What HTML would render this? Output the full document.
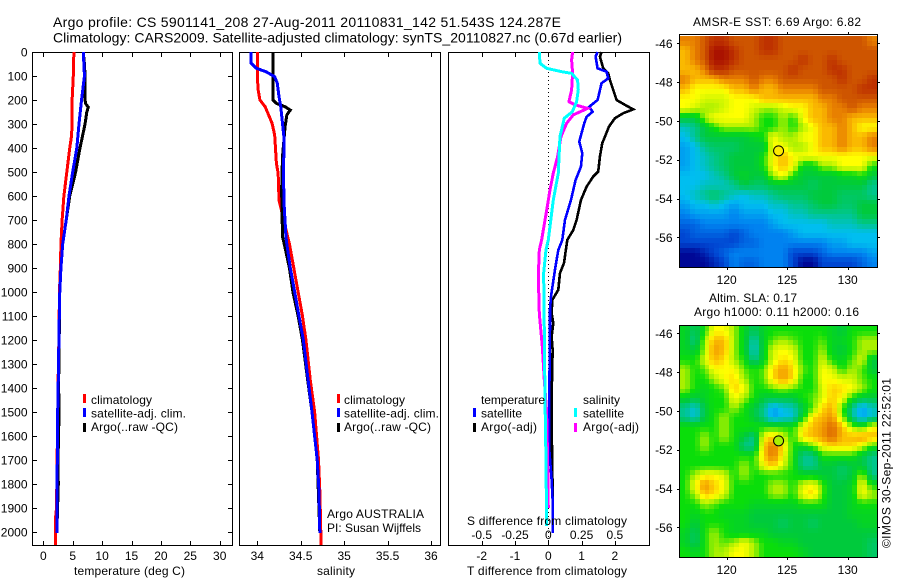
<!DOCTYPE html>
<html>
<head>
<meta charset="utf-8">
<title>Argo profile</title>
<style>
html,body{margin:0;padding:0;background:#fff;width:900px;height:580px;overflow:hidden}
svg{display:block}
text{font-family:"Liberation Sans",sans-serif;font-size:12px;fill:#000}
.title{font-size:14px}
.crisp{shape-rendering:crispEdges}
</style>
</head>
<body>
<svg id="chart" xmlns="http://www.w3.org/2000/svg" width="900" height="580" viewBox="0 0 900 580">
  <rect x="0" y="0" width="900" height="580" fill="#fff"/>
  <text class="title" x="53" y="27" textLength="508">Argo profile: CS 5901141_208 27-Aug-2011 20110831_142 51.543S 124.287E</text>
  <text class="title" x="53" y="42.5" textLength="569">Climatology: CARS2009. Satellite-adjusted climatology: synTS_20110827.nc (0.67d earlier)</text>

  <g id="maps"></g>
  <g id="panels"></g>

  <text x="91" y="404" textLength="61">climatology</text>
  <text x="91" y="417.5" textLength="95">satellite-adj. clim.</text>
  <text x="91" y="431" textLength="87">Argo(..raw -QC)</text>
  <rect class="crisp" x="83" y="394" width="3" height="9" fill="#f00"/>
  <rect class="crisp" x="83" y="408" width="3" height="9" fill="#00f"/>
  <rect class="crisp" x="83" y="423" width="3" height="9" fill="#000"/>

  <text x="344" y="404" textLength="61">climatology</text>
  <text x="344" y="417.5" textLength="95">satellite-adj. clim.</text>
  <text x="344" y="431" textLength="87">Argo(..raw -QC)</text>
  <rect class="crisp" x="337" y="394" width="3" height="9" fill="#f00"/>
  <rect class="crisp" x="337" y="408" width="3" height="9" fill="#00f"/>
  <rect class="crisp" x="337" y="423" width="3" height="9" fill="#000"/>
  <text x="327" y="518" textLength="97">Argo AUSTRALIA</text>
  <text x="327" y="532" textLength="94">PI: Susan Wijffels</text>

  <text x="481" y="404" textLength="64">temperature</text>
  <text x="583" y="404" textLength="37">salinity</text>
  <text x="481" y="417.5" textLength="41">satellite</text>
  <text x="481" y="431" textLength="56">Argo(-adj)</text>
  <text x="583" y="417.5" textLength="41">satellite</text>
  <text x="583" y="431" textLength="56">Argo(-adj)</text>
  <rect class="crisp" x="473" y="408" width="3" height="9" fill="#00f"/>
  <rect class="crisp" x="473" y="423" width="3" height="9" fill="#000"/>
  <rect class="crisp" x="574" y="408" width="3" height="9" fill="#0ff"/>
  <rect class="crisp" x="574" y="423" width="3" height="9" fill="#f0f"/>

  <text x="74" y="575" textLength="111">temperature (deg C)</text>
  <text x="317" y="575" textLength="38">salinity</text>
  <text x="467" y="575" textLength="160">T difference from climatology</text>
  <text x="467" y="525" textLength="160">S difference from climatology</text>

  <text x="693" y="26" textLength="168">AMSR-E SST: 6.69 Argo: 6.82</text>
  <text x="709" y="302" textLength="88">Altim. SLA: 0.17</text>
  <text x="694" y="316" textLength="165">Argo h1000: 0.11 h2000: 0.16</text>
  <text transform="translate(890.5,548) rotate(-90)" x="0" y="0" textLength="170">©IMOS 30-Sep-2011 22:52:01</text>
</svg>
<script>
// ---- axis ticks and labels ----
const depthTicks = [0,100,200,300,400,500,600,700,800,900,1000,1100,1200,1300,1400,1500,1600,1700,1800,1900,2000];
const tempTicks = [0,5,10,15,20,25,30];
const salTicks = [34,34.5,35,35.5,36];
const tDiffTicks = [-2,-1,0,1,2];
const sDiffTicks = [-0.5,-0.25,0,0.25,0.5];
const sDiffLabels = ['-0.5','-0.25','0','0.25','0.5'];
const lonTicks = [120,125,130];
const latTicks = [-46,-48,-50,-52,-54,-56];

// ---- temperature profile (deg C) ----
const tClimDepth = [0,100,200,300,350,400,500,600,700,800,900,1000,1200,1400,1600,1800,1900,1950,2055];
const tClimValue = [5.2,5.1,4.9,4.9,4.8,4.5,4.0,3.5,3.2,3.0,2.9,2.75,2.65,2.5,2.4,2.3,2.25,2.05,2.05];
const tSatDepth = [0,50,100,200,300,400,500,600,700,800,900,1000,1200,1370,1400,1560,1800,2005];
const tSatValue = [6.8,6.9,7.0,6.5,6.07,5.7,5.0,4.37,3.9,3.3,3.0,2.8,2.65,2.55,2.5,2.42,2.35,2.3];
const tArgoDepth = [0,50,100,200,215,230,250,300,400,500,600,700,800,900,1000,1200,1400,1480,1700,1800,2005];
const tArgoValue = [6.8,7.0,7.1,7.1,7.2,7.65,7.4,7.1,6.24,5.5,4.5,3.9,3.3,3.0,2.8,2.7,2.6,2.7,2.5,2.55,2.3];

// ---- salinity profile ----
const sClimDepth = [0,100,158,200,228,262,297,346,464,505,617,770,800,900,1000,1100,1200,1367,1500,1700,1830,2055];
const sClimValue = [34.0,34.0,34.01,34.03,34.09,34.13,34.17,34.2,34.22,34.24,34.25,34.35,34.37,34.42,34.47,34.52,34.56,34.61,34.66,34.705,34.72,34.735];
const sSatDepth = [0,47,68,82,103,130,186,228,297,367,505,644,770,800,900,1000,1100,1200,1367,1500,1700,1830,2005];
const sSatValue = [33.93,33.93,33.99,34.1,34.2,34.23,34.25,34.27,34.29,34.31,34.3,34.31,34.33,34.34,34.38,34.43,34.48,34.53,34.585,34.63,34.69,34.71,34.72];
const sArgoDepth = [0,200,214,228,242,262,311,436,575,770,800,900,1000,1100,1200,1367,1500,1700,2005];
const sArgoValue = [34.18,34.18,34.22,34.32,34.38,34.34,34.32,34.29,34.28,34.29,34.31,34.37,34.41,34.47,34.52,34.58,34.63,34.69,34.72];

// ---- differences from climatology ----
const dTSatDepth = [0,19,68,82,110,130,200,228,249,270,297,373,422,478,533,617,700,783,825,908,1019,1075,1158,1436,1658,1783,1866,2005];
const dTSatValue = [1.48,1.42,1.48,1.75,1.8,1.6,1.48,1.23,1.33,1.15,1.08,0.93,1.02,0.98,0.82,0.68,0.5,0.42,0.3,0.2,0.08,0.05,0.05,0.03,0.03,0.1,0.13,0.13];
const dTArgoDepth = [0,19,68,89,117,158,200,220,239,255,276,311,353,380,436,498,519,561,617,700,742,783,880,922,991,1033,1089,1130,1186,1241,1436,1547,1825,2005];
const dTArgoValue = [1.6,1.55,1.65,1.8,1.85,1.95,2.05,2.3,2.55,2.25,2.0,1.82,1.7,1.62,1.55,1.5,1.35,1.15,0.98,0.85,0.75,0.57,0.47,0.35,0.3,0.12,0.1,0.15,0.1,0.13,0.1,0.1,0.13,0.13];
const dSSatDepth = [0,47,68,82,89,117,158,207,249,276,353,505,617,783,825,922,1158,1436,1700,1975];
const dSSatValue = [-0.0675,-0.0625,-0.0125,0.1,0.175,0.22,0.225,0.2125,0.18,0.12,0.0875,0.075,0.0375,0,-0.0175,-0.035,-0.03,-0.025,-0.0175,-0.0125];
const dSArgoDepth = [0,33,89,158,207,220,235,262,297,353,436,505,575,644,783,825,936,1089,1228,1367,1500,1700,1900];
const dSArgoValue = [0.1825,0.175,0.1825,0.175,0.155,0.2,0.295,0.1875,0.1375,0.095,0.07,0.0375,0.0125,-0.0075,-0.05,-0.0675,-0.075,-0.0675,-0.045,-0.03,-0.0125,-0.005,0];

// ---- satellite maps: colour-class values, north to south, west to east ----
const sstGrid = [
[10,10,11,12,12,11,11,11,12,12,11,11,11,11,11,11,11,11,11,10],
[9,10,11,13,13,12,11,11,12,12,11,11,11,11,11,11,11,11,11,11],
[9,10,11,13,13,12,11,11,11,11,11,11,12,11,11,12,11,11,11,11],
[9,9,10,12,12,11,11,11,11,11,11,12,11,11,11,12,12,11,11,11],
[10,9,9,9,10,10,10,11,10,10,11,11,11,11,11,11,12,11,11,12],
[9,8,8,8,8,9,9,10,9,9,10,10,10,10,11,11,11,11,12,12],
[8,8,7.5,7.5,7.5,8,8,8,9,9,9,9,9,9,10,10,11,11,11,11],
[8,7.5,7,7,7.5,8,8,7.5,7,7,7.5,8,8,9,9,10,10,11,10,10],
[5,5,7,8,8,8,8,7,6,6,7,6,8,9,9,10,10,9,9,9],
[3.5,4,5,6,7,7,7,7,6,6,7,6,7,8,9,9,10,9,8,8],
[3,4,5,5,5,5,5,5.5,6,8,7,7,8,8,9,9,10,9,9,10],
[2.5,3,4,4.5,4.5,4.5,5,5,5,8,8,7,7,8,9,9,10,9,9,10],
[2.5,3,3.5,4,4.5,5,5,5,6,8,9,8,8,8,8,8,8,8,8,8],
[2.5,3,3.5,4,4.5,5,5,5,6,8,9,8,5.5,5.5,7,7,8,8,8,6],
[3,3,3,3.5,4,5,5.5,5,5,7,8,6,5,5,5,5,5.5,5.5,6,5],
[3,3,3.5,3.5,3.5,4,5,4.5,4.5,5,5,5,5,4.5,5,5,5,5,5,4],
[3,3.5,4,4.5,4,3.5,3,3.5,3.5,4,4.5,4.5,4.5,5,5,5,4.5,4.5,4.5,4],
[2.5,3,3,3.5,3,2.5,3,3,3,3.5,3.5,4,4,4.5,5,5,4.5,4.5,5,5],
[2,2.5,2.5,2.5,2.5,2,2.5,2.5,2.5,3,3,3.5,3.5,4,4,4,4,4,5,5],
[1.5,1.5,2,2,2,2,2,2,2,2.5,3,3,3,3,3,3.5,3.5,3.5,4,4],
[1,1.5,1.5,1.5,1.5,1,1.5,2,2,2,2,2.5,3,3,3,3,3,3,3,3],
[1,1,1,1,1,1,1.5,1.5,2,2,2,2,2,2,2,2.5,2.5,3,3,3],
[0,0,0.5,1,1.5,2,2,2,2,2,2,1,1,1,1.5,2,2,2,2,2.5],
[0,0,0,0.5,1,2,1.5,1.5,2,2,2,1,0,0,1,1,1,1,1.5,2]
];
const slaGrid = [
[5.5,4.5,6,8,8,7,5.5,4.5,5.5,6,6,6,6,6,6,5.5,5,6,6,6],
[5.5,4,7,9,9,7,5.5,3.5,5.5,6.5,7,6.5,6,6,6.5,5.5,5.5,6,7,7],
[5.5,5,7,9.5,9,7,5.5,3.2,5.5,7.5,8,7.5,6,6,7,5.5,5,6,7,7],
[6,6,7.5,9,8.5,7,6,4,5.5,7.5,8.5,8,6,6,7.5,6,5.5,6.5,7.5,5],
[7,6,6.5,8,8,8,6.5,6,6.5,8.5,9.5,8.5,6.5,6,8,7.5,6,7,6.5,5],
[7,6,6,7,8,8.5,7,6,6.5,8.5,9.5,8.5,6,6,8,8,7.5,7.5,6.5,6],
[7,6,5.5,6,6.5,8.7,8,6,6,6.5,7,6.5,6,6,7.5,8.7,8.5,8,7,6],
[5.5,5,5.5,6,6,8,7,6,5,5,5,5,6,6.5,7.5,8.7,8,6,5,5],
[4,3.2,5,6,6,7,6,5,4,2.5,3.2,3.5,5,6.5,8.5,9.2,6.5,4,2.5,3.5],
[4,3.2,5,6,7,6,6,5,4,2.5,3,3.2,5.5,8.5,9,9.7,7,4,2.5,3.5],
[6,6,6,6,7,6,6,6,6,6,6,6,8,9,9.5,10.5,9,7,6,8],
[6,6,7,6,7,6,5,4,8,8.7,7.5,6,8.5,9,9.5,10.5,9,9,9.5,9],
[6,6,7,6,6,6,4,4,8.7,10.2,8.5,6,5.5,6.5,8,8.5,8.5,8.5,7.5,6],
[6,6,6,6,6,6,6,6,8.7,10.2,8,6,4,4,6,6,6,6,5,4],
[6,6,6,6,6,6,7,6,8,8.7,7.5,6,4,4,5,5,4.5,5,5,4],
[6,7,8,8,7.5,6,7,6,6,6,6,6,5.5,5.5,5,5,4.5,5,7,4],
[6,8,9.7,8.7,8,6,6,6,6,7,7,6,7.5,8,6.5,5,5,5.5,8,6],
[6,7,9,8.5,7.5,6,6,6,6,7,7,6,8,8.7,6.5,5,5,5.5,8,7],
[6,6,7,6.5,6,6,6,5.5,5.5,5.5,5.5,5.5,6,6,6,5,5,5.5,6,6],
[6,5.5,6,6,5.5,5.5,5.5,5,5,5,5,5,5,5,5,5,5,5.5,5.5,5.5],
[6,5,6,6,6,5.5,5.5,5,5,5,4.5,5,5,4.5,5,5,5,5,5.5,5.5],
[5.5,4.5,6,7,6,5.5,5.5,5.5,5.5,5,5,5,5,5,5,5,5,5,5,5],
[5.5,4.5,6,7,6.5,7,8,7,6,6,5.5,5.5,5,5,5,5,5,5,5,4.5],
[6,5.5,6,7,7,8,8,7,6,6,6,6,5.5,5,5,5,5,5,5,4.5]
];
const profileLon = [124.287];
const profileLat = [-51.543];
const sstMarkerClass = [8.3];
const slaMarkerClass = [7];

const NS = 'http://www.w3.org/2000/svg';
const panelsG = document.getElementById('panels');
const mapsG = document.getElementById('maps');

function mk(parent, tag, attrs) {
  const el = document.createElementNS(NS, tag);
  for (const k in attrs) el.setAttribute(k, attrs[k]);
  parent.appendChild(el);
  return el;
}

// Depth axis shared by all three profile panels
const yTop = 52, yBottom = 545, pxPerMetre = 0.24;
function yDepth(d) { return yTop + d * pxPerMetre; }
function linear(v0, p0, v1, p1) { return v => p0 + (v - v0) * (p1 - p0) / (v1 - v0); }

const xTemp = linear(0, 43.3, 30, 219.7);
const xSal = linear(34, 257.3, 36, 431);
const xTDiff = linear(0, 548.3, 1, 581.6);
const xSDiff = linear(0, 548.3, 0.5, 614.9);

function drawFrame(x0, x1, name) {
  const r = mk(panelsG, 'rect', {x:x0+0.5, y:yTop+0.5, width:x1-x0, height:yBottom-yTop, fill:'none', stroke:'#000', 'stroke-width':1, class:'crisp'});
  
  
}

function drawXTicks(ticks, labels, xf, baseline, name, bottomTicks) {
  ticks.forEach((t, i) => {
    const x = Math.round(xf(t)) + 0.5;
    const tickTop = mk(panelsG, 'line', {x1:x, x2:x, y1:yTop, y2:yTop+5, stroke:'#000', class:'crisp'});
    
    
    if (bottomTicks) {
      const tickBot = mk(panelsG, 'line', {x1:x, x2:x, y1:yBottom-4, y2:yBottom, stroke:'#000', class:'crisp'});
      
      
    }
    const label = mk(panelsG, 'text', {x:xf(t), y:baseline, 'text-anchor':'middle'});
    label.textContent = labels[i];
    
    
  });
}

function drawSeries(depths, values, xf, color, width, name) {
  let d = '';
  depths.forEach((dep, i) => {
    d += (i ? 'L' : 'M') + xf(values[i]).toFixed(2) + ' ' + yDepth(dep).toFixed(2);
  });
  const p = mk(panelsG, 'path', {d:d, fill:'none', stroke:color, 'stroke-width':width, class:'crisp', 'stroke-linejoin':'miter'});
  
  
}

// Panel 1: temperature
drawFrame(32, 232, 'temperature-panel');
depthTicks.forEach(d => {
  const y = Math.round(yDepth(d)) + 0.5;
  const left = mk(panelsG, 'line', {x1:32, x2:37, y1:y, y2:y, stroke:'#000', class:'crisp'});
  
  
  const right = mk(panelsG, 'line', {x1:228, x2:232, y1:y, y2:y, stroke:'#000', class:'crisp'});
  
  
  const label = mk(panelsG, 'text', {x:27.5, y:yDepth(d)+4.5, 'text-anchor':'end'});
  label.textContent = String(d);
  
  
});
drawXTicks(tempTicks, tempTicks.map(String), xTemp, 560, 'temperature', true);
drawSeries(tClimDepth, tClimValue, xTemp, '#f00', 3, 'temperature-climatology-line');
drawSeries(tArgoDepth, tArgoValue, xTemp, '#000', 3, 'temperature-argo-line');
drawSeries(tSatDepth, tSatValue, xTemp, '#00f', 3, 'temperature-satellite-line');

// Panel 2: salinity
drawFrame(239, 440, 'salinity-panel');
drawXTicks(salTicks, salTicks.map(String), xSal, 560, 'salinity', true);
drawSeries(sClimDepth, sClimValue, xSal, '#f00', 3, 'salinity-climatology-line');
drawSeries(sArgoDepth, sArgoValue, xSal, '#000', 3, 'salinity-argo-line');
drawSeries(sSatDepth, sSatValue, xSal, '#00f', 3, 'salinity-satellite-line');

// Panel 3: differences
drawFrame(448, 649, 'difference-panel');
drawXTicks(tDiffTicks, tDiffTicks.map(String), xTDiff, 560, 't-difference', true);
sDiffTicks.forEach((t, i) => {
  const label = mk(panelsG, 'text', {x:xSDiff(t), y:539, 'text-anchor':'middle'});
  label.textContent = sDiffLabels[i];
  
  
});
const zeroLine = mk(panelsG, 'line', {x1:548.5, x2:548.5, y1:yTop, y2:yBottom, stroke:'#000', 'stroke-dasharray':'1 3', class:'crisp'});


drawSeries(dTArgoDepth, dTArgoValue, xTDiff, '#000', 2.6, 't-difference-argo-line');
drawSeries(dTSatDepth, dTSatValue, xTDiff, '#00f', 2.6, 't-difference-satellite-line');
drawSeries(dSArgoDepth, dSArgoValue, xSDiff, '#f0f', 3, 's-difference-argo-line');
drawSeries(dSSatDepth, dSSatValue, xSDiff, '#0ff', 3, 's-difference-satellite-line');

// Maps
const palette = [[0,8,150],[0,70,210],[0,130,240],[0,190,240],[0,198,140],[0,202,60],[10,222,10],[170,240,0],[255,255,0],[250,185,0],[232,128,0],[206,85,0],[190,50,0],[170,18,0]];
function colourOf(v) {
  const c = Math.max(0, Math.min(palette.length - 1.001, v));
  const i = Math.floor(c), f = c - i;
  const a = palette[i], b = palette[i + 1];
  return 'rgb(' + [0,1,2].map(k => Math.round(a[k] + (b[k] - a[k]) * f)).join(',') + ')';
}
function sampleGrid(grid, r, c) {
  const rows = grid.length, cols = grid[0].length;
  const rr = Math.max(0, Math.min(rows - 1, r)), cc = Math.max(0, Math.min(cols - 1, c));
  const r0 = Math.floor(rr), c0 = Math.floor(cc);
  const r1 = Math.min(rows - 1, r0 + 1), c1 = Math.min(cols - 1, c0 + 1);
  const fr = rr - r0, fc = cc - c0;
  return grid[r0][c0]*(1-fr)*(1-fc) + grid[r0][c1]*(1-fr)*fc + grid[r1][c0]*fr*(1-fc) + grid[r1][c1]*fr*fc;
}
const xLon = linear(120, 726.7, 130, 847.7);

function drawMap(grid, opts) {
  const rows = grid.length, cols = grid[0].length, sub = 2;
  const yLat = linear(-46, opts.lat46, -56, opts.lat46 + 194);
  const frame = mk(mapsG, 'rect', {x:679.5, y:opts.frameTop+0.5, width:198, height:opts.imgBottom-opts.frameTop, fill:'none', stroke:'#000', class:'crisp'});
  
  
  const imgW = 196.5, imgH = opts.imgBottom - opts.imgTop;
  for (let r = 0; r < rows * sub; r++) {
    for (let c = 0; c < cols * sub; c++) {
      const x0 = Math.round(680 + c * imgW / (cols * sub));
      const x1 = Math.round(680 + (c + 1) * imgW / (cols * sub));
      const y0 = Math.round(opts.imgTop + r * imgH / (rows * sub));
      const y1 = Math.round(opts.imgTop + (r + 1) * imgH / (rows * sub));
      const v = sampleGrid(grid, (r + 0.5) / sub - 0.5, (c + 0.5) / sub - 0.5);
      const cell = mk(mapsG, 'rect', {x:x0, y:y0, width:x1-x0, height:y1-y0, fill:colourOf(v), class:'crisp'});
      
      
    }
  }
  lonTicks.forEach(t => {
    const x = Math.round(xLon(t)) + 0.5;
    const tickA = mk(mapsG, 'line', {x1:x, x2:x, y1:opts.frameTop-2, y2:opts.frameTop, stroke:'#000', class:'crisp'});
    
    
    const tickB = mk(mapsG, 'line', {x1:x, x2:x, y1:opts.imgBottom+1, y2:opts.imgBottom+3, stroke:'#000', class:'crisp'});
    
    
    const label = mk(mapsG, 'text', {x:xLon(t), y:opts.lonBaseline, 'text-anchor':'middle'});
    label.textContent = String(t);
    
    
  });
  latTicks.forEach(t => {
    const y = Math.round(yLat(t)) + 0.5;
    const tickA = mk(mapsG, 'line', {x1:677, x2:679, y1:y, y2:y, stroke:'#000', class:'crisp'});
    
    
    const tickB = mk(mapsG, 'line', {x1:878, x2:880, y1:y, y2:y, stroke:'#000', class:'crisp'});
    
    
    const label = mk(mapsG, 'text', {x:672.5, y:yLat(t)+4.5, 'text-anchor':'end'});
    label.textContent = String(t);
    
    
  });
  const marker = mk(mapsG, 'circle', {cx:xLon(profileLon[0]), cy:yLat(profileLat[0]), r:5, fill:colourOf(opts.markerClass[0]), stroke:'#000', 'stroke-width':1});
  
  
}
drawMap(sstGrid, {name:'sst-map', frameTop:34, imgTop:36, imgBottom:267, lat46:43.3, lonBaseline:284, markerClass:sstMarkerClass});
drawMap(slaGrid, {name:'sla-map', frameTop:325, imgTop:326, imgBottom:557, lat46:333.3, lonBaseline:574, markerClass:slaMarkerClass});
</script>
</body>
</html>
